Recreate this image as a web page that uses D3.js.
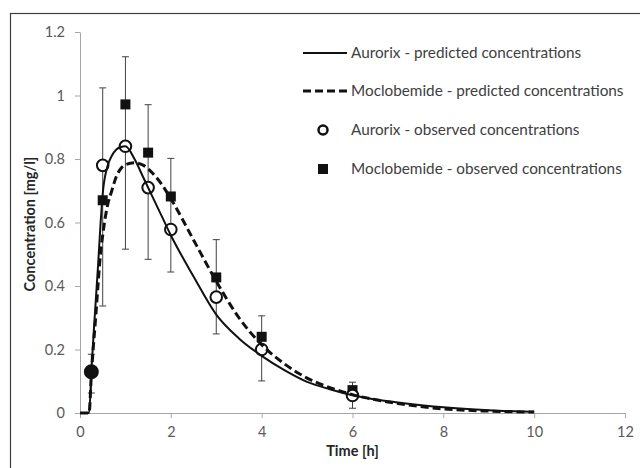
<!DOCTYPE html>
<html>
<head>
<meta charset="utf-8">
<script src="https://cdn.jsdelivr.net/npm/d3@7"></script>
<style>
  html, body { margin: 0; padding: 0; background: #fff; }
  svg { display: block; font-family: Lato, "Open Sans", sans-serif; }
</style>
</head>
<body>
<div id="chart"></div>
<script>
// predicted curves
const predTime = [0, 0.2, 0.25, 0.3, 0.35, 0.4, 0.45, 0.5, 0.6, 0.7, 0.8, 0.9, 1.0, 1.2, 1.4, 1.6, 1.8, 2.0, 2.5, 3.0, 3.5, 4.0, 4.5, 5.0, 5.5, 6.0, 7.0, 8.0, 9.0, 10.0];
const aurorixPred = [0, 0, 0.13, 0.25, 0.36, 0.47, 0.59, 0.69, 0.775, 0.81, 0.83, 0.838, 0.84, 0.80, 0.74, 0.68, 0.62, 0.56, 0.43, 0.31, 0.235, 0.18, 0.135, 0.098, 0.075, 0.056, 0.033, 0.018, 0.009, 0.004];
const mocloPred = [0, 0, 0.12, 0.22, 0.31, 0.41, 0.5, 0.56, 0.65, 0.70, 0.745, 0.77, 0.782, 0.788, 0.78, 0.755, 0.72, 0.675, 0.545, 0.415, 0.30, 0.215, 0.155, 0.11, 0.08, 0.058, 0.03, 0.013, 0.006, 0.003];

// observed
const obsTime = [0.25, 0.5, 1, 1.5, 2, 3, 4, 6];
const aurorixObs = [0.13, 0.78, 0.84, 0.71, 0.578, 0.365, 0.2, 0.055];
const mocloObs = [0.13, 0.67, 0.972, 0.82, 0.682, 0.427, 0.24, 0.072];
const errLow = [0.063, 0.337, 0.516, 0.484, 0.444, 0.249, 0.101, 0.015];
const errHigh = [0.185, 1.024, 1.122, 0.971, 0.802, 0.546, 0.306, 0.097];

const xTicks = [0, 2, 4, 6, 8, 10, 12];
const yTicks = [0, 0.2, 0.4, 0.6, 0.8, 1, 1.2];

const legendLabels = [
  "Aurorix - predicted concentrations",
  "Moclobemide - predicted concentrations",
  "Aurorix - observed concentrations",
  "Moclobemide - observed concentrations"
];

const width = 640, height = 468;
const margin = { top: 32, right: 15, bottom: 55, left: 80 };

const svg = d3.select("#chart").append("svg").attr("width", width).attr("height", height);

// outer frame
svg.append("rect")
  .attr("x", 10.5).attr("y", 13.5)
  .attr("width", 640).attr("height", 470)
  .attr("fill", "none").attr("stroke", "#404040").attr("stroke-width", 1.2);

const x = d3.scaleLinear().domain([0, 12]).range([margin.left, width - margin.right]);
const y = d3.scaleLinear().domain([0, 1.2]).range([height - margin.bottom, margin.top]);

const axisColor = "#a6a6a6";
const tickText = "#595959";

svg.append("g")
  .attr("transform", "translate(0," + (height - margin.bottom) + ")")
  .call(d3.axisBottom(x).tickValues(xTicks).tickSize(5).tickSizeOuter(0).tickPadding(9).tickFormat(d3.format("d")))
  .call(function (g) {
    g.selectAll("path,line").attr("stroke", axisColor);
    g.selectAll("text").attr("fill", tickText).attr("font-size", 14.5).attr("font-family", "Lato, sans-serif");
  });

svg.append("g")
  .attr("transform", "translate(" + margin.left + ",0)")
  .call(d3.axisLeft(y).tickValues(yTicks).tickSize(5).tickSizeOuter(0).tickPadding(10).tickFormat(function (d) { return d3.format("")(+d.toFixed(1)); }))
  .call(function (g) {
    g.selectAll("path,line").attr("stroke", axisColor);
    g.selectAll("text").attr("fill", tickText).attr("font-size", 14.5).attr("font-family", "Lato, sans-serif");
  });

// axis titles
svg.append("text")
  .attr("x", (x(0) + x(12)) / 2).attr("y", 456)
  .attr("text-anchor", "middle").attr("font-weight", "bold")
  .attr("font-size", 14.5).attr("fill", "#262626")
  .text("Time [h]");

svg.append("text")
  .attr("transform", "translate(35," + 224 + ") rotate(-90)")
  .attr("text-anchor", "middle").attr("font-weight", "bold")
  .attr("font-size", 14.5).attr("fill", "#262626")
  .text("Concentration [mg/l]");

// error bars
const bars = svg.append("g").attr("stroke", "#404040").attr("stroke-width", 1);
obsTime.forEach(function (t, i) {
  bars.append("line").attr("x1", x(t)).attr("x2", x(t)).attr("y1", y(errLow[i])).attr("y2", y(errHigh[i]));
  bars.append("line").attr("x1", x(t) - 3.5).attr("x2", x(t) + 3.5).attr("y1", y(errLow[i])).attr("y2", y(errLow[i]));
  bars.append("line").attr("x1", x(t) - 3.5).attr("x2", x(t) + 3.5).attr("y1", y(errHigh[i])).attr("y2", y(errHigh[i]));
});

// observed markers
svg.append("g").selectAll("rect")
  .data(obsTime)
  .enter()
  .append("rect")
  .attr("x", function (d) { return x(d) - 5; })
  .attr("y", function (d, i) { return y(mocloObs[i]) - 5; })
  .attr("width", 10).attr("height", 10)
  .attr("fill", "#111");

svg.append("g").selectAll("circle")
  .data(obsTime)
  .enter()
  .append("circle")
  .attr("cx", function (d) { return x(d); })
  .attr("cy", function (d, i) { return y(aurorixObs[i]); })
  .attr("r", function (d, i) { return i === 0 ? 6.5 : 5.8; })
  .attr("fill", function (d, i) { return i === 0 ? "#111" : "#fff"; })
  .attr("stroke", "#111").attr("stroke-width", 2);

// predicted lines
const line = d3.line()
  .x(function (d) { return x(d[0]); })
  .y(function (d) { return y(d[1]); })
  .curve(d3.curveMonotoneX);

svg.append("path")
  .attr("d", line(predTime.map(function (t, i) { return [t, mocloPred[i]]; })))
  .attr("fill", "none").attr("stroke", "#111").attr("stroke-width", 3)
  .attr("stroke-dasharray", "8,4");

svg.append("path")
  .attr("d", line(predTime.map(function (t, i) { return [t, aurorixPred[i]]; })))
  .attr("fill", "none").attr("stroke", "#111").attr("stroke-width", 2);

// legend
const legend = svg.append("g");
const rowY = [53, 91, 130, 169];
legendLabels.forEach(function (label, i) {
  const ly = rowY[i];
  if (i === 0) {
    legend.append("line").attr("x1", 303).attr("x2", 347).attr("y1", ly).attr("y2", ly)
      .attr("stroke", "#111").attr("stroke-width", 2);
  } else if (i === 1) {
    legend.append("line").attr("x1", 303).attr("x2", 347).attr("y1", ly).attr("y2", ly)
      .attr("stroke", "#111").attr("stroke-width", 3).attr("stroke-dasharray", "8,4");
  } else if (i === 2) {
    legend.append("circle").attr("cx", 323).attr("cy", ly).attr("r", 4.5)
      .attr("fill", "#fff").attr("stroke", "#111").attr("stroke-width", 2.5);
  } else {
    legend.append("rect").attr("x", 318).attr("y", ly - 5).attr("width", 10).attr("height", 10)
      .attr("fill", "#111");
  }
  legend.append("text")
    .attr("x", i < 2 ? 351 : 351).attr("y", ly).attr("dy", "0.35em")
    .attr("font-size", 15.3).attr("fill", "#404040")
    .text(label);
});
</script>
</body>
</html>
